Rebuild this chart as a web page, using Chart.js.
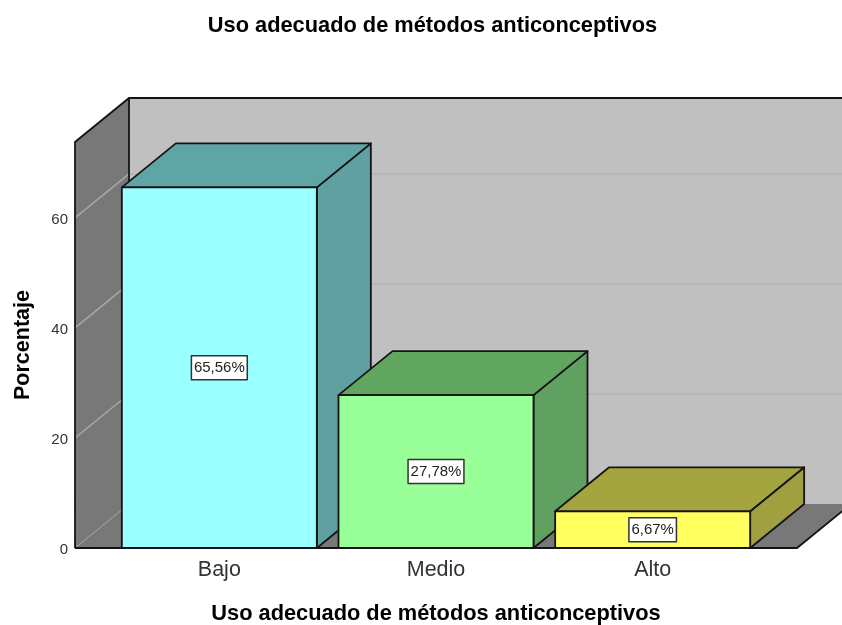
<!DOCTYPE html>
<html>
<head>
<meta charset="utf-8">
<style>html,body{margin:0;padding:0;background:#fff}#w{width:842px;height:625px}</style>
<script src="https://cdn.jsdelivr.net/npm/chart.js@4"></script>
</head>
<body>
<div id="w"><canvas id="c"></canvas></div>
<script>
const chartTitle = "Uso adecuado de métodos anticonceptivos";
const xTitle = "Uso adecuado de métodos anticonceptivos";
const yTitle = "Porcentaje";
const categories = ["Bajo", "Medio", "Alto"];
const values = [65.56, 27.78, 6.67];
const valueLabels = ["65,56%", "27,78%", "6,67%"];
const frontColors = ["#99FFFF", "#99FF99", "#FFFF60"];
const sideColors = ["#60A0A0", "#60A060", "#A0A040"];
const topColors = ["#60A5A5", "#60A560", "#A5A540"];
const yTicks = [0, 20, 40, 60];
const yMax = 73.8;

const depthX = 54, depthY = 44, wallOverhang = 36;
const INK = "#141414";

function poly(ctx, pts, fill, stroke, lw) {
  ctx.beginPath();
  pts.forEach((p, i) => i ? ctx.lineTo(p[0], p[1]) : ctx.moveTo(p[0], p[1]));
  ctx.closePath();
  if (fill) { ctx.fillStyle = fill; ctx.fill(); }
  if (stroke) { ctx.strokeStyle = stroke; ctx.lineWidth = lw || 1.8; ctx.lineJoin = "round"; ctx.stroke(); }
}

const box3d = {
  id: "box3d",
  beforeDatasetsDraw(chart) {
    const { ctx, chartArea: a, scales: { y } } = chart;
    const L = a.left - wallOverhang, R = a.right + wallOverhang, T = a.top, B = a.bottom;
    ctx.save();
    poly(ctx, [[L + depthX, T - depthY], [R + depthX + 60, T - depthY], [R + depthX + 60, B - depthY], [L + depthX, B - depthY]], "#C0C0C0");
    poly(ctx, [[L, B], [R, B], [R + depthX, B - depthY], [L + depthX, B - depthY]], "#787878");
    poly(ctx, [[L, T], [L + depthX, T - depthY], [L + depthX, B - depthY], [L, B]], "#787878");
    yTicks.forEach(t => {
      const py = y.getPixelForValue(t);
      if (t > 0) {
        ctx.strokeStyle = "#B6B6B6"; ctx.lineWidth = 2; ctx.beginPath();
        ctx.moveTo(L + depthX, py - depthY); ctx.lineTo(R + depthX + 60, py - depthY); ctx.stroke();
      }
      ctx.strokeStyle = "#A8A8A8"; ctx.lineWidth = t === 0 ? 1 : 1.5;
      ctx.setLineDash(t === 0 ? [2, 1] : []);
      ctx.beginPath(); ctx.moveTo(L, py); ctx.lineTo(L + depthX, py - depthY); ctx.stroke();
      ctx.setLineDash([]);
    });
    ctx.strokeStyle = INK; ctx.lineWidth = 1.8;
    ctx.beginPath();
    ctx.moveTo(L, B); ctx.lineTo(L, T); ctx.lineTo(L + depthX, T - depthY); ctx.lineTo(R + depthX + 60, T - depthY);
    ctx.moveTo(L + depthX, T - depthY); ctx.lineTo(L + depthX, B - depthY);
    ctx.moveTo(L, B); ctx.lineTo(R, B); ctx.lineTo(R + depthX, B - depthY);
    ctx.stroke();
    chart.getDatasetMeta(0).data.forEach((bar, i) => {
      const l = bar.x - bar.width / 2, r = bar.x + bar.width / 2, t = bar.y, b = bar.base;
      poly(ctx, [[r, t], [r + depthX, t - depthY], [r + depthX, b - depthY], [r, b]], sideColors[i], INK);
      poly(ctx, [[l, t], [l + depthX, t - depthY], [r + depthX, t - depthY], [r, t]], topColors[i], INK);
    });
    ctx.restore();
  },
  afterDatasetsDraw(chart) {
    const { ctx } = chart;
    ctx.save();
    ctx.font = "15px 'Liberation Sans'";
    ctx.textAlign = "center";
    ctx.textBaseline = "middle";
    chart.getDatasetMeta(0).data.forEach((bar, i) => {
      const l = bar.x - bar.width / 2, r = bar.x + bar.width / 2;
      poly(ctx, [[l, bar.y], [r, bar.y], [r, bar.base], [l, bar.base]], null, INK);
      const cx = bar.x, cy = (bar.y + bar.base) / 2;
      const w = ctx.measureText(valueLabels[i]).width + 5, h = 24;
      ctx.fillStyle = "#fff"; ctx.strokeStyle = "#333"; ctx.lineWidth = 1.5;
      ctx.fillRect(cx - w / 2, cy - h / 2, w, h);
      ctx.strokeRect(cx - w / 2, cy - h / 2, w, h);
      ctx.fillStyle = "#222";
      ctx.fillText(valueLabels[i], cx, cy + 0.5);
    });
    ctx.restore();
  }
};

new Chart(document.getElementById("c"), {
  type: "bar",
  data: {
    labels: categories,
    datasets: [{
      data: values,
      backgroundColor: frontColors,
      borderWidth: 0,
      barPercentage: 0.9,
      categoryPercentage: 1
    }]
  },
  plugins: [box3d],
  options: {
    responsive: true,
    maintainAspectRatio: false,
    animation: false,
    layout: { padding: { left: 23, right: 0, top: 0, bottom: 0 } },
    plugins: {
      legend: { display: false },
      tooltip: { enabled: false },
      title: {
        display: true,
        text: chartTitle,
        color: "#000",
        font: { family: "'Liberation Sans'", size: 21.8, weight: "bold" },
        padding: { top: 13, bottom: 102.84 }
      }
    },
    scales: {
      x: {
        afterFit(s) { s.height = 77; },
        grid: { display: false, drawTicks: false },
        border: { display: false },
        ticks: { color: "#333", font: { family: "'Liberation Sans'", size: 21.5 }, padding: 9, maxRotation: 0 },
        title: { display: true, text: xTitle, color: "#000", font: { family: "'Liberation Sans'", size: 21.8, weight: "bold" }, padding: { top: 0, bottom: -2 } }
      },
      y: {
        min: 0,
        max: yMax,
        afterFit(s) { s.width = 88; },
        grid: { display: false, drawTicks: false },
        border: { display: false },
        ticks: { stepSize: 20, includeBounds: false, color: "#333", font: { family: "'Liberation Sans'", size: 15 }, padding: 43, labelOffset: 1.5 },
        title: { display: true, text: yTitle, color: "#000", font: { family: "'Liberation Sans'", size: 21.5, weight: "bold" }, padding: { top: -13, bottom: 0 } }
      },
      yRight: {
        position: "right",
        afterFit(s) { s.width = 81; },
        grid: { display: false, drawTicks: false },
        border: { display: false },
        ticks: { display: false }
      }
    }
  }
});
</script>
</body>
</html>
